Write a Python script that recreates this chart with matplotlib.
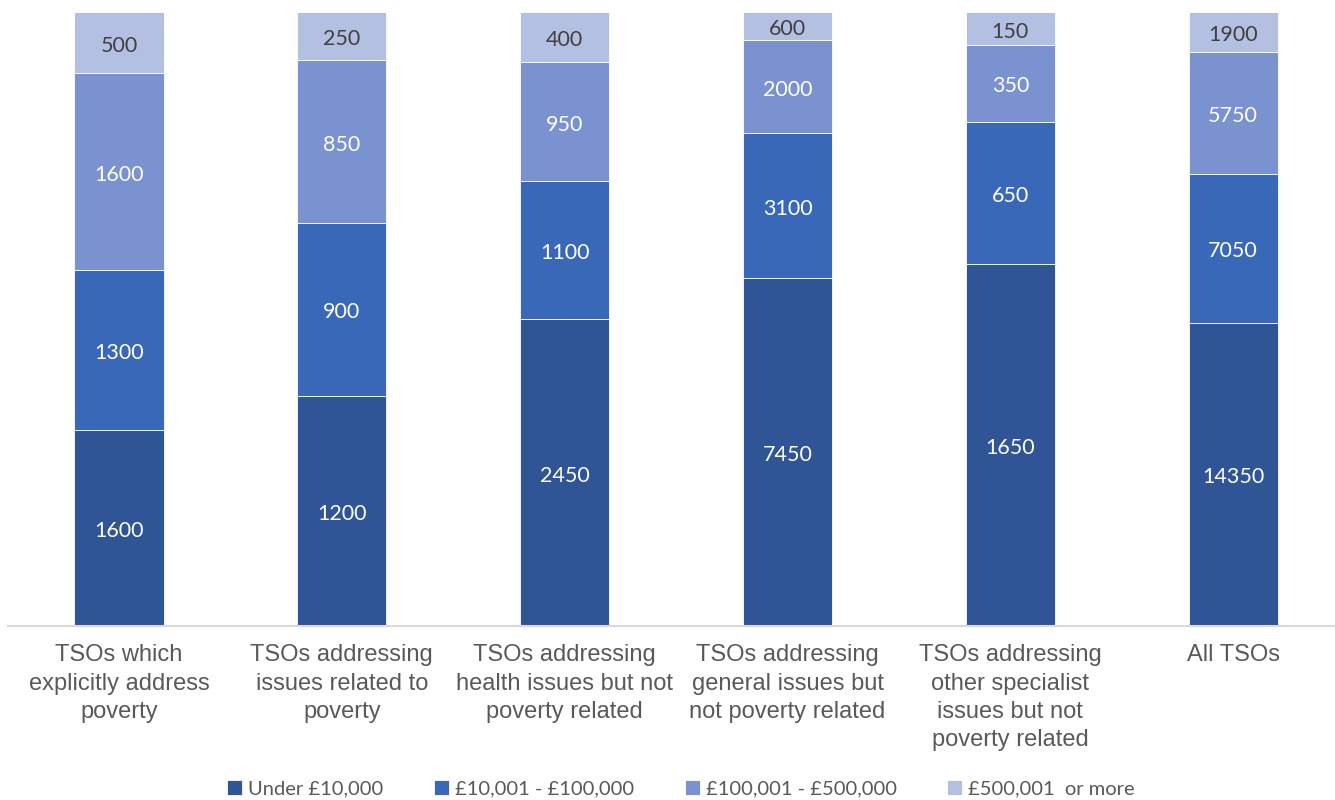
import numpy as np
import matplotlib.pyplot as plt
from matplotlib.transforms import offset_copy

categories = [
    "TSOs which\nexplicitly address\npoverty",
    "TSOs addressing\nissues related to\npoverty",
    "TSOs addressing\nhealth issues but not\npoverty related",
    "TSOs addressing\ngeneral issues but\nnot poverty related",
    "TSOs addressing\nother specialist\nissues but not\npoverty related",
    "All TSOs",
]
series_names = ["Under £10,000", "£10,001 - £100,000", "£100,001 - £500,000", "£500,001  or more"]
under_10k = [1600, 1200, 2450, 7450, 1650, 14350]
k10_to_100k = [1300, 900, 1100, 3100, 650, 7050]
k100_to_500k = [1600, 850, 950, 2000, 350, 5750]
over_500k = [500, 250, 400, 600, 150, 1900]

colors = ["#2F5597", "#3A68B8", "#7A92CF", "#B4C0E2"]
label_colors = ["white", "white", "white", "#404040"]

series = np.array([under_10k, k10_to_100k, k100_to_500k, over_500k], dtype=float)
totals = series.sum(axis=0)
shares = series / totals  # 100% stacked

fig = plt.figure(figsize=(13.35, 8), dpi=100)
ax = fig.add_axes([7.6 / 1335, 174 / 800, 1337 / 1335, 614 / 800])

# labels sit a touch lower than the geometric centre
label_tr = offset_copy(ax.transData, fig=fig, x=0, y=-2.2, units="points")

x = np.arange(len(categories))
bottom = np.zeros(len(categories))
handles = []
for i, name in enumerate(series_names):
    bars = ax.bar(x, shares[i], 0.4, bottom=bottom, color=colors[i],
                  edgecolor="white", linewidth=0.6, label=name)
    handles.append(bars)
    for j in range(len(categories)):
        ax.text(x[j], bottom[j] + shares[i][j] / 2, f"{int(series[i][j])}",
                ha="center", va="center", fontsize=15.5, family="Lato",
                color=label_colors[i], transform=label_tr)
    bottom += shares[i]

ax.set_xlim(-0.5, len(categories) - 0.5)
ax.set_ylim(0, 1)
for s in ["top", "right", "left"]:
    ax.spines[s].set_visible(False)
ax.spines["bottom"].set_color("#D9D9D9")
ax.spines["bottom"].set_linewidth(1.5)
ax.set_yticks([])
ax.set_xticks(x)
ax.set_xticklabels(categories, fontsize=17, family="Liberation Sans",
                   color="#595959", va="top", linespacing=1.38)
ax.tick_params(axis="x", length=0, pad=13)

fig.legend(handles=handles, labels=series_names, loc="center",
           bbox_to_anchor=(681 / 1335, 11 / 800), ncol=4, frameon=False,
           handlelength=0.75, handleheight=0.75, handletextpad=0.3,
           columnspacing=2.5, prop={"family": "Lato", "size": 14.5},
           labelcolor="#595959")

fig.savefig("out.png", dpi=100)
